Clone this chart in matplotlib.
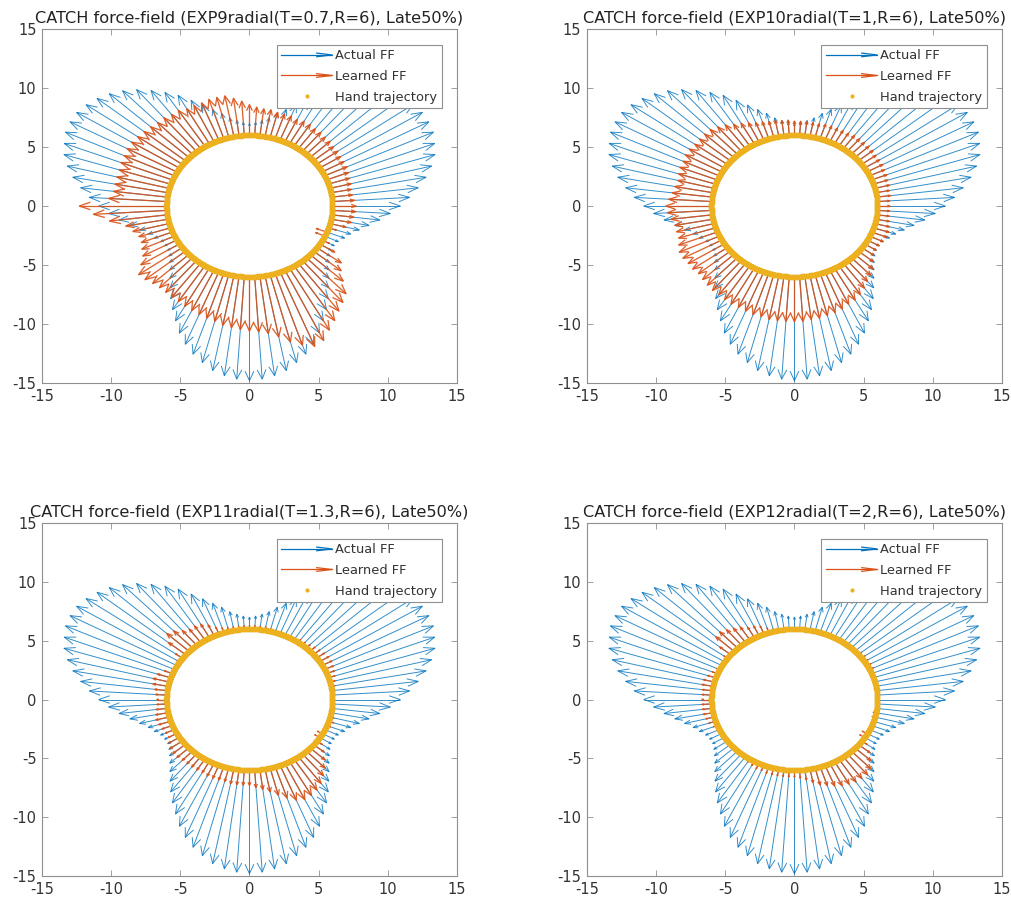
import numpy as np
import matplotlib
matplotlib.use("Agg")
import matplotlib.pyplot as plt
from matplotlib.collections import LineCollection
from matplotlib.legend_handler import HandlerBase
from matplotlib.lines import Line2D

plt.rcParams['font.family'] = ['DejaVu Sans']
plt.rcParams['axes.unicode_minus'] = False

# ---------------------------------------------------------------- data
TARGET_RADIUS = 6.0          # radius of the circular reach (R=6)
N_ARROWS = 100               # force samples taken along the circle
ANGLE_STEP_DEG = 3.6

# Radial force magnitude of the applied (actual) field, one value per sample
ACTUAL_FF = [
    4.9, 5.6, 6.3, 7.0, 7.6, 8.1, 8.4, 8.7, 8.8, 8.8,
    8.6, 8.3, 7.9, 7.4, 6.8, 6.1, 5.4, 4.7, 3.9, 3.2,
    2.6, 2.1, 1.6, 1.3, 1.1, 1.0, 1.1, 1.3, 1.6, 2.1,
    2.6, 3.2, 3.9, 4.7, 5.4, 6.1, 6.8, 7.4, 7.9, 8.3,
    8.6, 8.8, 8.8, 8.7, 8.4, 8.1, 7.6, 7.0, 6.3, 5.6,
    4.9, 4.2, 3.5, 2.8, 2.2, 1.7, 1.4, 1.1, 1.0, 1.0,
    1.2, 1.5, 1.9, 2.4, 3.0, 3.7, 4.4, 5.1, 5.9, 6.6,
    7.2, 7.7, 8.2, 8.5, 8.7, 8.8, 8.7, 8.5, 8.2, 7.7,
    7.2, 6.6, 5.9, 5.1, 4.4, 3.7, 3.0, 2.4, 1.9, 1.5,
    1.2, 1.0, 1.0, 1.1, 1.4, 1.7, 2.2, 2.8, 3.5, 4.2,
]

# Learned (catch-trial) radial force magnitudes, one list per experiment
LEARNED_FF_EXP9 = [
    1.7, 1.6, 1.5, 1.5, 1.6, 1.6, 1.7, 1.8, 1.8, 1.8,
    1.9, 1.9, 2.0, 2.0, 2.1, 2.1, 2.2, 2.2, 2.1, 2.2,
    2.2, 2.2, 2.3, 2.3, 2.4, 2.6, 2.9, 3.2, 3.5, 3.5,
    3.5, 3.4, 3.4, 3.4, 3.6, 3.6, 3.7, 3.7, 3.8, 3.9,
    4.0, 4.1, 4.1, 4.0, 4.0, 3.9, 3.9, 3.9, 3.9, 4.2,
    6.3, 5.3, 4.2, 3.1, 2.7, 2.4, 2.4, 2.6, 2.8, 3.3,
    3.9, 3.8, 3.6, 3.5, 3.5, 3.6, 3.6, 3.7, 3.8, 3.9,
    4.0, 4.1, 4.3, 4.4, 4.5, 4.6, 4.7, 4.9, 5.3, 5.9,
    6.4, 6.8, 6.6, 6.0, 5.5, 5.0, 4.6, 4.2, 3.3, 2.6,
    2.2, 1.3, 0.6, -0.7, -0.8, 0.6, 1.2, 1.5, 1.6, 1.7,
]
LEARNED_FF_EXP10 = [
    0.9, 0.9, 1.0, 1.0, 1.1, 1.1, 1.2, 1.2, 1.3, 1.3,
    1.3, 1.4, 1.4, 1.4, 1.4, 1.4, 1.3, 1.3, 1.3, 1.3,
    1.3, 1.2, 1.2, 1.2, 1.2, 1.2, 1.3, 1.3, 1.4, 1.4,
    1.5, 1.6, 1.8, 2.0, 2.2, 2.5, 2.7, 2.9, 2.9, 2.9,
    2.9, 3.0, 3.0, 2.9, 2.9, 2.8, 2.7, 2.8, 2.9, 3.1,
    3.3, 3.2, 3.0, 2.8, 2.8, 2.8, 3.0, 3.2, 3.2, 3.1,
    3.1, 3.0, 3.1, 3.2, 3.3, 3.3, 3.4, 3.5, 3.5, 3.6,
    3.7, 3.7, 3.8, 3.8, 3.8, 3.8, 3.8, 3.7, 3.7, 3.6,
    3.5, 3.4, 3.2, 3.1, 2.9, 2.6, 2.3, 2.1, 1.8, 1.4,
    1.1, 1.0, 1.0, 1.1, 1.2, 1.2, 1.1, 1.0, 0.9, 0.9,
]
LEARNED_FF_EXP11 = [
    0.1, 0.1, 0.2, 0.3, 0.4, 0.5, 0.6, 0.7, 0.8, 0.8,
    0.7, 0.6, 0.5, 0.4, 0.3, 0.3, 0.2, 0.2, 0.2, 0.2,
    0.2, 0.2, 0.3, 0.3, 0.3, 0.3, 0.3, 0.3, 0.3, 0.3,
    0.4, 0.6, 1.0, 1.3, 1.4, 1.4, 1.6, 2.0, 2.2, 1.6,
    0.6, 0.2, 0.1, 0.2, 0.6, 1.0, 1.2, 1.1, 0.9, 0.8,
    0.7, 0.7, 0.8, 0.9, 1.0, 0.9, 0.8, 0.7, 0.7, 0.9,
    1.1, 1.2, 1.2, 1.1, 1.1, 1.1, 1.1, 1.1, 1.2, 1.2,
    1.2, 1.2, 1.3, 1.3, 1.3, 1.3, 1.5, 1.7, 2.0, 2.4,
    2.8, 3.2, 3.4, 3.3, 3.1, 2.8, 2.4, 2.0, 1.5, 1.0,
    0.5, -0.4, -0.4, 0.2, 0.3, 0.4, 0.3, 0.2, 0.1, 0.1,
]
LEARNED_FF_EXP12 = [
    0.1, 0.1, 0.1, 0.1, 0.1, 0.2, 0.2, 0.3, 0.3, 0.3,
    0.3, 0.3, 0.2, 0.2, 0.2, 0.1, 0.1, 0.1, 0.1, 0.1,
    0.1, 0.1, 0.1, 0.1, 0.1, 0.1, 0.1, 0.1, 0.1, 0.2,
    0.4, 0.7, 0.9, 1.0, 1.3, 1.5, 1.7, 1.9, 1.8, 1.0,
    0.3, 0.1, 0.1, 0.2, 0.4, 0.6, 0.8, 0.8, 0.7, 0.7,
    0.7, 0.7, 0.7, 0.7, 0.6, 0.5, 0.3, 0.2, 0.1, 0.1,
    0.1, 0.1, 0.1, 0.1, 0.1, 0.2, 0.3, 0.4, 0.5, 0.5,
    0.6, 0.6, 0.6, 0.6, 0.6, 0.6, 0.7, 0.9, 1.2, 1.5,
    1.7, 1.9, 2.1, 2.2, 2.3, 2.3, 2.3, 2.1, 1.6, 1.1,
    0.5, -0.4, -0.4, 0.1, 0.1, 0.1, -0.2, -0.2, 0.1, 0.1,
]

TITLES = [
    "CATCH force-field (EXP9radial(T=0.7,R=6), Late50%)",
    "CATCH force-field (EXP10radial(T=1,R=6), Late50%)",
    "CATCH force-field (EXP11radial(T=1.3,R=6), Late50%)",
    "CATCH force-field (EXP12radial(T=2,R=6), Late50%)",
]
LEARNED = [LEARNED_FF_EXP9, LEARNED_FF_EXP10, LEARNED_FF_EXP11, LEARNED_FF_EXP12]
LEGEND_LABELS = ["Actual FF", "Learned FF", "Hand trajectory"]
TICKS = [-15, -10, -5, 0, 5, 10, 15]

# ---------------------------------------------------------------- style
BLUE = "#0072BD"
RED = "#D95319"
YELLOW = "#EDB120"
FRAME = "#8f8f8f"
TEXT = "#333333"


def arrow_segments(angles_deg, magnitudes, radius):
    """Radial quiver arrows (shaft + open V head) starting on the circle."""
    th = np.deg2rad(np.asarray(angles_deg, dtype=float))
    m = np.asarray(magnitudes, dtype=float)
    ux, uy = np.cos(th), np.sin(th)
    x0, y0 = radius * ux, radius * uy
    x1, y1 = x0 + m * ux, y0 + m * uy
    length = np.abs(m)
    ex, ey = np.sign(m) * ux, np.sign(m) * uy
    hl = np.minimum(0.2 * length, 0.8)
    hw = 0.4 * hl
    bx, by = x1 - hl * ex, y1 - hl * ey
    px, py = -ey, ex
    segs = []
    for i in range(len(m)):
        segs.append([(x0[i], y0[i]), (x1[i], y1[i])])
        segs.append([(bx[i] + hw[i] * px[i], by[i] + hw[i] * py[i]),
                     (x1[i], y1[i]),
                     (bx[i] - hw[i] * px[i], by[i] - hw[i] * py[i])])
    return segs


class ArrowHandle(HandlerBase):
    """Legend key drawn as a line ending in an open arrow head."""

    def create_artists(self, legend, orig_handle, xdescent, ydescent,
                       width, height, fontsize, trans):
        c = orig_handle.get_color()
        y = height / 2.0 - ydescent
        x0 = -xdescent
        x1 = x0 + width
        hl = 0.3 * width
        hh = 0.2 * height
        shaft = Line2D([x0, x1], [y, y], color=c, lw=0.9)
        head = Line2D([x1 - hl, x1, x1 - hl], [y + hh, y, y - hh], color=c, lw=0.9)
        for a in (shaft, head):
            a.set_transform(trans)
        return [shaft, head]


angles = np.arange(N_ARROWS) * ANGLE_STEP_DEG
traj_t = np.linspace(0, 2 * np.pi, 2000)
traj_x = TARGET_RADIUS * np.cos(traj_t)
traj_y = TARGET_RADIUS * np.sin(traj_t)

fig = plt.figure(figsize=(10.12, 9.06), dpi=100)
positions = [
    [0.0415, 0.5773, 0.4100, 0.3907],
    [0.5800, 0.5773, 0.4100, 0.3907],
    [0.0415, 0.0331, 0.4100, 0.3896],
    [0.5800, 0.0331, 0.4100, 0.3896],
]

for pos, title, learned in zip(positions, TITLES, LEARNED):
    ax = fig.add_axes(pos)
    ax.add_collection(LineCollection(arrow_segments(angles, ACTUAL_FF, TARGET_RADIUS),
                                     colors=BLUE, linewidths=0.7, alpha=0.8, zorder=2))
    ax.add_collection(LineCollection(arrow_segments(angles, learned, TARGET_RADIUS),
                                     colors=RED, linewidths=0.95, alpha=0.9, zorder=3))
    ax.plot(traj_x, traj_y, ".", color=YELLOW, ms=5.5, zorder=4)

    ax.set_xlim(-15, 15)
    ax.set_ylim(-15, 15)
    ax.set_xticks(TICKS)
    ax.set_yticks(TICKS)
    ax.tick_params(direction="in", top=True, right=True, length=4, width=0.6,
                   color=FRAME, labelcolor=TEXT, labelsize=10.5, pad=4)
    for sp in ax.spines.values():
        sp.set_color(FRAME)
        sp.set_linewidth(0.8)
    ax.set_title(title, fontsize=11.6, color="#222222", pad=5)

    h_act = Line2D([], [], color=BLUE)
    h_lrn = Line2D([], [], color=RED)
    h_trj = Line2D([], [], ls="none", marker=".", ms=4, color=YELLOW)
    leg = ax.legend([h_act, h_lrn, h_trj], LEGEND_LABELS,
                    handler_map={h_act: ArrowHandle(), h_lrn: ArrowHandle()},
                    loc="upper right", bbox_to_anchor=(0.964, 0.955),
                    fontsize=9.4, handlelength=3.9, handletextpad=0.25,
                    labelspacing=0.58, borderpad=0.35, borderaxespad=0.0,
                    fancybox=False, framealpha=1.0, edgecolor=FRAME)
    leg.get_frame().set_linewidth(0.8)
    for t in leg.get_texts():
        t.set_color(TEXT)

fig.savefig("out.png", dpi=100)
